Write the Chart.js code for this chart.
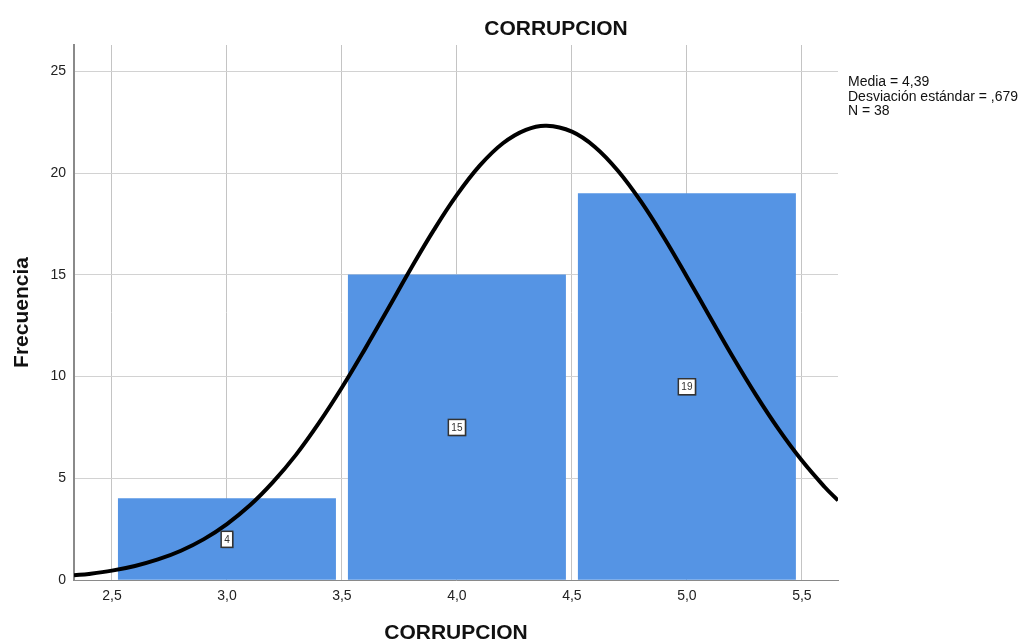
<!DOCTYPE html>
<html>
<head>
<meta charset="utf-8">
<script src="https://cdn.jsdelivr.net/npm/chart.js"></script>
<style>
  body { margin: 0; background: #ffffff; }
</style>
</head>
<body>
<canvas id="histChart" width="1026" height="644"></canvas>
<script>
// histogram bins (centre of bin) and frequencies
const binCenters = [3.0, 4.0, 5.0];
const frequencies = [4, 15, 19];

// normal curve
const curveX = [2.335, 2.4, 2.5, 2.6, 2.7, 2.8, 2.9, 3.0, 3.1, 3.2, 3.3, 3.4, 3.5, 3.6, 3.7, 3.8, 3.9,
  4.0, 4.1, 4.2, 4.3, 4.39, 4.5, 4.6, 4.7, 4.8, 4.9, 5.0, 5.1, 5.2, 5.3, 5.4, 5.5, 5.6, 5.657];
const curveY = [0.23, 0.30, 0.46, 0.69, 1.01, 1.44, 2.01, 2.75, 3.67, 4.81, 6.15, 7.72, 9.46,
  11.35, 13.32, 15.31, 17.21, 18.93, 20.38, 21.47, 22.13, 22.33, 22.04, 21.29, 20.12, 18.61,
  16.84, 14.91, 12.93, 10.96, 9.10, 7.39, 5.87, 4.56, 3.91];

// axis ticks
const xTickValues = [2.5, 3.0, 3.5, 4.0, 4.5, 5.0, 5.5];
const xTickLabels = ['2,5', '3,0', '3,5', '4,0', '4,5', '5,0', '5,5'];
const yTickValues = [0, 5, 10, 15, 20, 25];
const yTickLabels = ['0', '5', '10', '15', '20', '25'];

const chartTitle = 'CORRUPCION';
const xTitle = 'CORRUPCION';
const yTitle = 'Frecuencia';
const statsLines = ['Media = 4,39', 'Desviación estándar = ,679', 'N = 38'];

const FONT = '"Liberation Sans", Arial, sans-serif';

// title, stats text and value boxes
const histText = {
  id: 'histText',
  afterDatasetsDraw(chart) {
    const c = chart.ctx;
    const xs = chart.scales.x;
    const ys = chart.scales.y;
    c.save();

    // value boxes in the middle of each bar
    c.font = '10px ' + FONT;
    c.textAlign = 'center';
    c.textBaseline = 'middle';
    binCenters.forEach((b, i) => {
      const px = xs.getPixelForValue(b);
      const py = ys.getPixelForValue(frequencies[i] / 2);
      const txt = String(frequencies[i]);
      const w = c.measureText(txt).width + 6;
      const h = 16;
      c.fillStyle = 'rgba(0,0,0,0.25)';
      c.fillRect(px - w / 2 + 1, py - h / 2 + 1, w, h);
      c.fillStyle = '#ffffff';
      c.fillRect(px - w / 2, py - h / 2, w, h);
      c.strokeStyle = '#333333';
      c.lineWidth = 1.5;
      c.strokeRect(px - w / 2, py - h / 2, w, h);
      c.fillStyle = '#333333';
      c.fillText(txt, px, py + 0.5);
    });

    // chart title
    c.fillStyle = '#111111';
    c.font = 'bold 21px ' + FONT;
    c.textAlign = 'center';
    c.textBaseline = 'alphabetic';
    c.fillText(chartTitle, 556, 35);

    // stats
    c.font = '14px ' + FONT;
    c.textAlign = 'left';
    statsLines.forEach((s, i) => {
      c.fillText(s, 848, 86 + i * 14.5);
    });
    c.restore();
  }
};

const ctx = document.getElementById('histChart');

new Chart(ctx, {
  data: {
    datasets: [
      {
        type: 'line',
        data: curveX.map((x, i) => ({ x: x, y: curveY[i] })),
        borderColor: '#000000',
        borderWidth: 4,
        pointRadius: 0,
        tension: 0.4,
        fill: false,
        order: 0
      },
      {
        type: 'bar',
        data: binCenters.map((x, i) => ({ x: x, y: frequencies[i] })),
        backgroundColor: '#5594e4',
        borderWidth: 0,
        barThickness: 'flex',
        categoryPercentage: 1,
        barPercentage: 0.945,
        order: 1
      }
    ]
  },
  options: {
    responsive: false,
    animation: false,
    layout: { padding: { top: 45, right: 188, left: 0, bottom: 0 } },
    plugins: {
      legend: { display: false },
      tooltip: { enabled: false },
      title: { display: false }
    },
    scales: {
      x: {
        type: 'linear',
        offset: false,
        min: 2.335,
        max: 5.657,
        afterBuildTicks: (scale) => {
          scale.ticks = xTickValues.map(v => ({ value: v }));
        },
        afterFit: (scale) => { scale.height = 64; },
        ticks: {
          padding: 8,
          font: { family: FONT, size: 14 },
          color: '#222222',
          callback: (value, index) => xTickLabels[index]
        },
        grid: { offset: false, color: '#c4c4c4', lineWidth: 1, drawTicks: false },
        border: { color: '#8a8a8a', width: 1 },
        title: {
          display: true,
          text: xTitle,
          color: '#111111',
          font: { family: FONT, size: 21, weight: 'bold', lineHeight: 1 },
          padding: { top: 0, bottom: 0 }
        }
      },
      y: {
        type: 'linear',
        min: 0,
        max: 26.3,
        afterBuildTicks: (scale) => {
          scale.ticks = yTickValues.map(v => ({ value: v }));
        },
        afterFit: (scale) => { scale.width = 74; },
        ticks: {
          padding: 8,
          font: { family: FONT, size: 14 },
          color: '#222222',
          callback: (value, index) => yTickLabels[index]
        },
        grid: { color: '#d2d2d2', lineWidth: 1, drawTicks: false },
        border: { color: '#8a8a8a', width: 2 },
        title: {
          display: true,
          text: yTitle,
          color: '#111111',
          font: { family: FONT, size: 21, weight: 'bold', lineHeight: 1 },
          padding: { top: 12, bottom: 0 }
        }
      }
    }
  },
  plugins: [histText]
});
</script>
</body>
</html>
